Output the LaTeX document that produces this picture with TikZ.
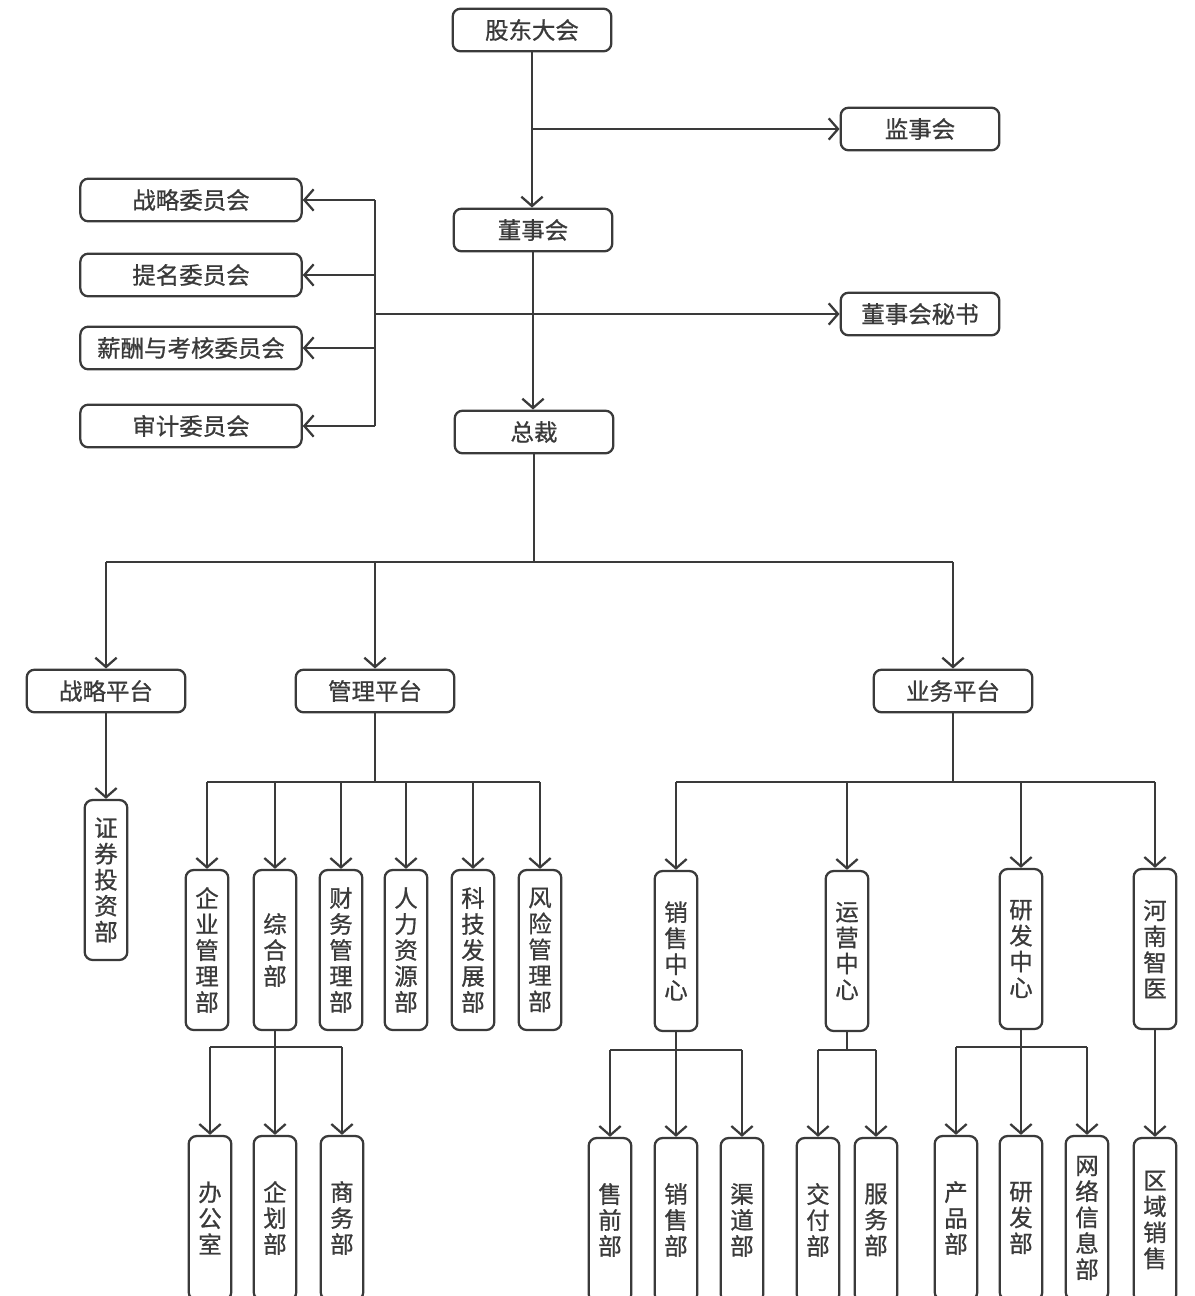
\documentclass[tikz,border=0pt]{standalone}
\usepackage{fontspec}
\setmainfont[FakeBold=0.8]{Noto Sans CJK SC}
\usetikzlibrary{arrows.meta}
\definecolor{linegray}{HTML}{3A3A3A}
\tikzset{
  box/.style={draw=linegray, line width=1.7pt, rounded corners=6pt, text=linegray,
    minimum width=119pt, minimum height=32pt, inner sep=0pt,
    font=\fontsize{17.6}{19.5}\selectfont},
  wbox/.style={box, minimum width=166pt},
  vbox/.style={box, minimum width=32pt, minimum height=120pt, align=center},
  lowbox/.style={vbox, minimum height=123pt},
  link/.style={draw=linegray, line width=1.7pt},
  arr/.style={link, -{Straight Barb[length=7pt,width=16pt]}}
}
\begin{document}
\begin{tikzpicture}[x=0.75pt, y=-0.75pt]
    \clip (0,0) rectangle (1195,1296);

    % top of the chain
    \node [box] (gd)  at (532,30)  {股东大会};
    \node [box] (jsh) at (920,129) {监事会};
    \node [box] (dsh) at (533,230) {董事会};
    \node [box] (ms)  at (920,314) {董事会秘书};
    \node [box] (zc)  at (534,432) {总裁};

    % committees
    \node [wbox] (c1) at (191,200) {战略委员会};
    \node [wbox] (c2) at (191,275) {提名委员会};
    \node [wbox] (c3) at (191,348) {薪酬与考核委员会};
    \node [wbox] (c4) at (191,426) {审计委员会};

    % platforms
    \node [box] (p1) at (106,691) {战略平台};
    \node [box] (p2) at (375,691) {管理平台};
    \node [box] (p3) at (953,691) {业务平台};

    \node [vbox] (zq) at (106,880) {证\\券\\投\\资\\部};

    % management departments
    \node [vbox] (m1) at (207,950) {企\\业\\管\\理\\部};
    \node [vbox] (m2) at (275,950) {综\\合\\部};
    \node [vbox] (m3) at (341,950) {财\\务\\管\\理\\部};
    \node [vbox] (m4) at (406,950) {人\\力\\资\\源\\部};
    \node [vbox] (m5) at (473,950) {科\\技\\发\\展\\部};
    \node [vbox] (m6) at (540,950) {风\\险\\管\\理\\部};

    % business centres
    \node [vbox] (b1) at (676,951)  {销\\售\\中\\心};
    \node [vbox] (b2) at (847,951)  {运\\营\\中\\心};
    \node [vbox] (b3) at (1021,949) {研\\发\\中\\心};
    \node [vbox] (b4) at (1155,949) {河\\南\\智\\医};

    % lowest row
    \node [lowbox] (o1) at (210,1218)  {办\\公\\室};
    \node [lowbox] (o2) at (275,1218)  {企\\划\\部};
    \node [lowbox] (o3) at (342,1218)  {商\\务\\部};
    \node [lowbox] (s1) at (610,1220)  {售\\前\\部};
    \node [lowbox] (s2) at (676,1220)  {销\\售\\部};
    \node [lowbox] (s3) at (742,1220)  {渠\\道\\部};
    \node [lowbox] (y1) at (818,1220)  {交\\付\\部};
    \node [lowbox] (y2) at (876,1220)  {服\\务\\部};
    \node [lowbox] (r1) at (956,1218)  {产\\品\\部};
    \node [lowbox] (r2) at (1021,1218) {研\\发\\部};
    \node [lowbox] (r3) at (1087,1218) {网\\络\\信\\息\\部};
    \node [lowbox] (h1) at (1155,1220) {区\\域\\销\\售};

    % board links
    \draw [arr] (gd.south) -- (gd.south |- dsh.north);
    \draw [arr] (gd.south |- jsh) -- (jsh.west);
    \draw [arr] (dsh.south) -- (dsh.south |- zc.north);

    \coordinate (cbus) at (375,314);
    \draw [arr] (cbus) -- (ms.west);
    \draw [link] (cbus |- c1) -- (cbus |- c4);
    \foreach \c in {c1,c2,c3,c4}
        \draw [arr] (cbus |- \c) -- (\c.east);

    % platform links
    \coordinate (pbus) at (0,562);
    \draw [link] (zc.south) -- (zc.south |- pbus);
    \draw [link] (p1 |- pbus) -- (p3 |- pbus);
    \foreach \p in {p1,p2,p3}
        \draw [arr] (\p |- pbus) -- (\p.north);

    \draw [arr] (p1.south) -- (zq.north);

    \coordinate (mbus) at (0,782);
    \draw [link] (p2.south) -- (p2 |- mbus);
    \draw [link] (m1 |- mbus) -- (m6 |- mbus);
    \foreach \m in {m1,m2,m3,m4,m5,m6}
        \draw [arr] (\m |- mbus) -- (\m.north);

    \draw [link] (p3.south) -- (p3 |- mbus);
    \draw [link] (b1 |- mbus) -- (b4 |- mbus);
    \foreach \b in {b1,b2,b3,b4}
        \draw [arr] (\b |- mbus) -- (\b.north);

    % lowest links
    \coordinate (obus) at (0,1047);
    \draw [link] (m2.south) -- (m2 |- obus);
    \draw [link] (o1 |- obus) -- (o3 |- obus);
    \foreach \o in {o1,o2,o3}
        \draw [arr] (\o |- obus) -- (\o.north);

    \coordinate (sbus) at (0,1050);
    \draw [link] (b1.south) -- (b1 |- sbus);
    \draw [link] (s1 |- sbus) -- (s3 |- sbus);
    \foreach \s in {s1,s2,s3}
        \draw [arr] (\s |- sbus) -- (\s.north);

    \draw [link] (b2.south) -- (b2 |- sbus);
    \draw [link] (y1 |- sbus) -- (y2 |- sbus);
    \foreach \s in {y1,y2}
        \draw [arr] (\s |- sbus) -- (\s.north);

    \draw [link] (b3.south) -- (b3 |- obus);
    \draw [link] (r1 |- obus) -- (r3 |- obus);
    \foreach \r in {r1,r2,r3}
        \draw [arr] (\r |- obus) -- (\r.north);

    \draw [arr] (b4.south) -- (h1.north);
\end{tikzpicture}
\end{document}
